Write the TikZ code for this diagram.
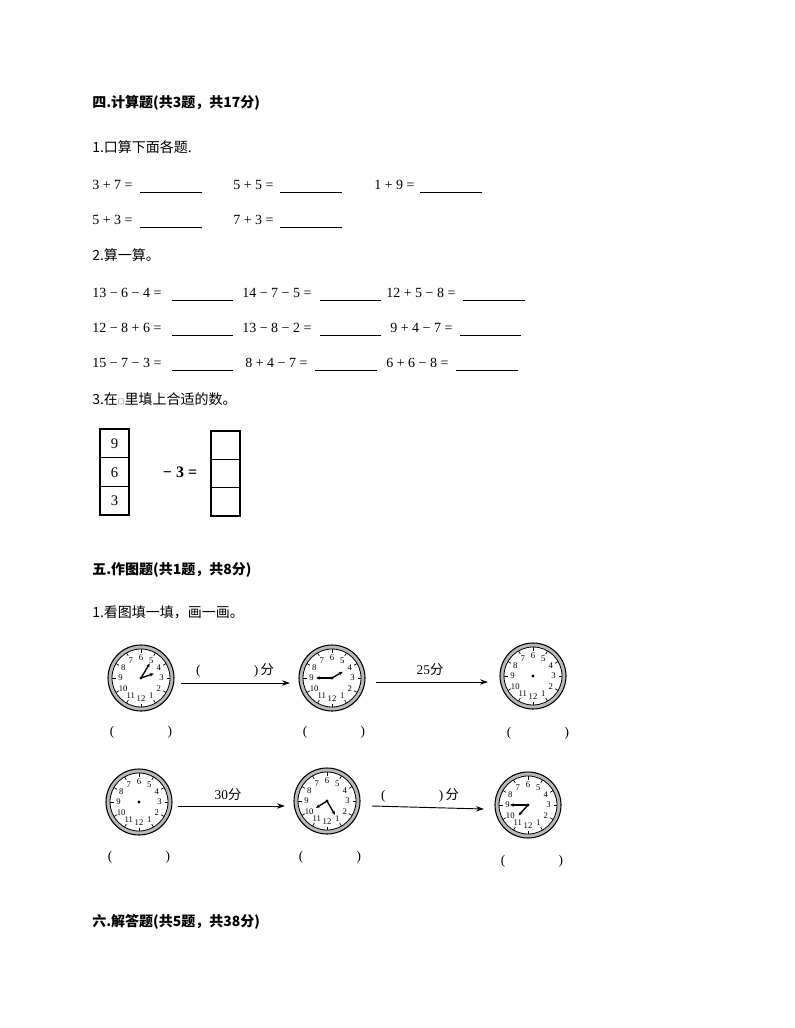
\documentclass[tikz,border=0pt]{standalone}
\usepackage{fontspec}
\setmainfont{Liberation Serif}
\newfontfamily\cjk{Noto Sans CJK SC}
\usetikzlibrary{arrows.meta}
\newcommand\myclock[2]{%
  \begin{scope}[shift={(#1)}]
    \fill[gray!55] (0,0) circle (33);
    \draw[line width=0.8pt] (0,0) circle (33);
    \fill[white] (0,0) circle (29);
    \draw[line width=0.6pt] (0,0) circle (29);
    \foreach \i in {1,...,12}{
      \draw[line width=0.5pt] ({90-30*\i}:29) -- ({90-30*\i}:25.5);
      \node[font=\fontsize{6.5}{7}\selectfont,inner sep=0pt] at ({90-30*\i}:20.5) {\i};
    }
    \fill (0,0) circle (1.6);
    #2
  \end{scope}}
\newcommand\hand[2]{\draw[line width=1pt,-{Stealth[length=3pt,width=2.5pt]}] (0,0) -- (#1:#2);}
\tikzset{
  head/.style={anchor=west,inner sep=0pt,font=\cjk\bfseries\fontsize{10.5}{12}\selectfont},
  txt/.style={anchor=west,inner sep=0pt,font=\fontsize{10.5}{12}\selectfont},
  blank/.style={line width=0.6pt},
  paren/.style={inner sep=0pt,font=\fontsize{10}{12}\selectfont},
  cl/.style={circle,minimum size=50pt,inner sep=0pt},
  arr/.style={line width=0.7pt,-{Stealth[length=6pt,width=4pt]}}
}
\begin{document}
\begin{tikzpicture}[x=0.75pt,y=-0.75pt]
\useasboundingbox[fill=white] (0,0) rectangle (794,1028);
\node[head] (h4) at (92,103) {四.计算题(共3题，共17分)};
\node[txt] (q1) at (92,147) {\cjk 1.口算下面各题.};
% row 1
\node[txt] (e1) at (92,185) {3 + 7 =};
\draw[blank] (140,192) -- (202,192);
\node[txt] (e2) at (233,185) {5 + 5 =};
\draw[blank] (280,192) -- (342,192);
\node[txt] (e3) at (374,185) {1 + 9 =};
\draw[blank] (420,192) -- (482,192);
\node[txt] (e4) at (92,220) {5 + 3 =};
\draw[blank] (140,227) -- (202,227);
\node[txt] (e5) at (233,220) {7 + 3 =};
\draw[blank] (280,227) -- (342,227);
\node[txt] (q2) at (92,255) {\cjk 2.算一算。};
\node[txt] (f1) at (92,293) {13 − 6 − 4 =};
\draw[blank] (172,300) -- (233,300);
\node[txt] (f2) at (242,293) {14 − 7 − 5 =};
\draw[blank] (320,300) -- (381,300);
\node[txt] (f3) at (386,293) {12 + 5 − 8 =};
\draw[blank] (463,300) -- (525,300);
\node[txt] (f4) at (92,328) {12 − 8 + 6 =};
\draw[blank] (172,335) -- (233,335);
\node[txt] (f5) at (242,328) {13 − 8 − 2 =};
\draw[blank] (320,335) -- (381,335);
\node[txt] (f6) at (390,328) {9 + 4 − 7 =};
\draw[blank] (460,335) -- (521,335);
\node[txt] (f7) at (92,363) {15 − 7 − 3 =};
\draw[blank] (172,370) -- (233,370);
\node[txt] (f8) at (245,363) {8 + 4 − 7 =};
\draw[blank] (315,370) -- (377,370);
\node[txt] (f9) at (386,363) {6 + 6 − 8 =};
\draw[blank] (456,370) -- (518,370);
\node[txt] (q3) at (92,399) {\cjk 3.在{\fontsize{5}{6}\selectfont □}里填上合适的数。};
% boxes
\draw[line width=1.2pt] (100,429) rectangle (129,515);
\draw[line width=0.8pt] (100,457.7) -- (129,457.7) (100,486.3) -- (129,486.3);
\node[inner sep=0pt,font=\fontsize{11}{12}\selectfont] (b9) at (114.5,444) {9};
\node[inner sep=0pt,font=\fontsize{11}{12}\selectfont] (b6) at (114.5,473) {6};
\node[inner sep=0pt,font=\fontsize{11}{12}\selectfont] (b3) at (114.5,501) {3};
\node[inner sep=0pt,font=\bfseries\fontsize{12}{14}\selectfont] (m3) at (180,472) {− 3 =};
\draw[line width=1.2pt] (211,431) rectangle (240,516);
\draw[line width=0.8pt] (211,459.3) -- (240,459.3) (211,487.7) -- (240,487.7);
\node[head] (h5) at (92,570) {五.作图题(共1题，共8分)};
\node[txt] (q4) at (92,612) {\cjk 1.看图填一填，画一画。};
% clocks
\myclock{141,678}{\hand{-19}{13.5}\hand{-59}{17}}
\myclock{332,678}{\hand{-30}{12.5}\hand{180}{16}}
\myclock{533,676}{}
\myclock{139,802}{}
\myclock{327,801}{\hand{148}{13}\hand{60}{16}}
\myclock{528,805}{\hand{132}{14}\hand{180}{18}}
\node[cl] (c1) at (141,678) {};
\node[cl] (c2) at (332,678) {};
\node[cl] (c3) at (533,676) {};
\node[cl] (c4) at (139,802) {};
\node[cl] (c5) at (327,801) {};
\node[cl] (c6) at (528,805) {};
\coordinate (a1s) at (181,683); \coordinate (a1e) at (290,683);
\coordinate (a2s) at (376,682); \coordinate (a2e) at (488,682);
\coordinate (a3s) at (178,806); \coordinate (a3e) at (285,806);
\coordinate (a4s) at (372,806); \coordinate (a4e) at (484,809);
\draw[arr] (a1s) -- (a1e);
\draw[arr] (a2s) -- (a2e);
\draw[arr] (a3s) -- (a3e);
\draw[arr] (a4s) -- (a4e);
\node[paren] (l1) at (235,670) {(\hspace{40pt})\,\cjk 分};
\node[paren] (l2) at (430,670) {25\cjk 分};
\node[paren] (l3) at (228,795) {30\cjk 分};
\node[paren] (l4) at (420,795) {(\hspace{40pt})\,\cjk 分};
\node[paren] (p1) at (141,732) {(\hspace{40pt})};
\node[paren] (p2) at (334,732) {(\hspace{40pt})};
\node[paren] (p3) at (538,733) {(\hspace{40pt})};
\node[paren] (p4) at (139,857) {(\hspace{40pt})};
\node[paren] (p5) at (330,857) {(\hspace{40pt})};
\node[paren] (p6) at (532,861) {(\hspace{40pt})};
\node[head] (h6) at (92,922) {六.解答题(共5题，共38分)};
\end{tikzpicture}
\end{document}
